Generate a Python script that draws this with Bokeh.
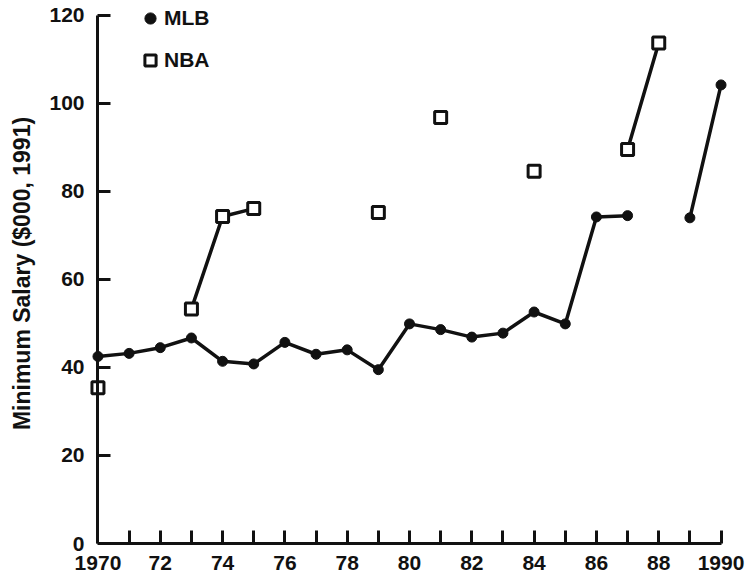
from bokeh.plotting import figure
from bokeh.models import Range1d, FixedTicker, Legend, LegendItem, LinearAxis
from bokeh.embed import file_html
from bokeh.resources import INLINE

# ---- data ----
mlb_years = [1970, 1971, 1972, 1973, 1974, 1975, 1976, 1977, 1978, 1979,
             1980, 1981, 1982, 1983, 1984, 1985, 1986, 1987, 1989, 1990]
mlb_vals = [42.5, 43.2, 44.5, 46.7, 41.4, 40.8, 45.7, 43.0, 44.0, 39.5,
            49.9, 48.6, 46.9, 47.8, 52.6, 49.9, 74.2, 74.5, 74.0, 104.2]

nba_years = [1970, 1973, 1974, 1975, 1979, 1981, 1984, 1987, 1988]
nba_vals = [35.4, 53.3, 74.3, 76.1, 75.2, 96.8, 84.6, 89.5, 113.7]

x_label_years = [1970, 1972, 1974, 1976, 1978, 1980, 1982, 1984, 1986, 1988, 1990]
x_tick_labels = ["1970", "72", "74", "76", "78", "80", "82", "84", "86", "88", "1990"]
x_minor_years = [1971, 1973, 1975, 1977, 1979, 1981, 1983, 1985, 1987, 1989]
y_ticks = [0, 20, 40, 60, 80, 100, 120]
y_label = "Minimum Salary ($000, 1991)"
series_names = ["MLB", "NBA"]


def broken(xs, ys):
    """Insert NaN where consecutive years are not adjacent, so lines break."""
    ox, oy = [], []
    for i, (x, y) in enumerate(zip(xs, ys)):
        if i > 0 and x - xs[i - 1] > 1:
            ox.append(float("nan"))
            oy.append(float("nan"))
        ox.append(x)
        oy.append(y)
    return ox, oy


FONT = "Liberation Sans"
INK = "#111111"

p = figure(width=749, height=576, output_backend="svg", toolbar_location=None,
           x_range=Range1d(1969.6, 1990.4), y_range=Range1d(0, 122.7),
           min_border_left=85, min_border_right=16, min_border_top=3,
           min_border_bottom=33)
p.outline_line_color = None
p.grid.visible = False
p.background_fill_color = "white"
p.border_fill_color = "white"

# lines
mx, my = broken(mlb_years, mlb_vals)
nx, ny = broken(nba_years, nba_vals)
p.line(mx, my, line_color=INK, line_width=3.5)
p.line(nx, ny, line_color=INK, line_width=3.5)

# markers
r_mlb = p.scatter(mlb_years, mlb_vals, marker="circle", size=10,
                  fill_color=INK, line_color=INK)
r_nba = p.scatter(nba_years, nba_vals, marker="square", size=12,
                  fill_color="white", line_color=INK, line_width=3)

# x axis
xa = p.xaxis[0]
xa.ticker = FixedTicker(ticks=x_label_years, minor_ticks=x_minor_years)
xa.major_label_overrides = dict(zip(x_label_years, x_tick_labels))
xa.bounds = (1970, 1990)
for pre in ("major", "minor"):
    setattr(xa, pre + "_tick_in", 13)
    setattr(xa, pre + "_tick_out", 0)
    setattr(xa, pre + "_tick_line_width", 3)
    setattr(xa, pre + "_tick_line_color", INK)
xa.axis_line_width = 3
xa.axis_line_color = INK
xa.major_label_standoff = 12
xa.major_label_text_font = FONT
xa.major_label_text_font_style = "bold"
xa.major_label_text_font_size = "21px"
xa.major_label_text_color = INK

# y axis: labels at the frame edge
ya = p.yaxis[0]
ya.ticker = FixedTicker(ticks=y_ticks)
ya.minor_tick_line_color = None
ya.major_tick_line_color = None
ya.axis_line_color = None
ya.major_tick_in = 0
ya.major_tick_out = 0
ya.major_label_standoff = 1
ya.major_label_text_font = FONT
ya.major_label_text_font_style = "bold"
ya.major_label_text_font_size = "21px"
ya.major_label_text_color = INK
ya.axis_label = y_label
ya.axis_label_text_font = FONT
ya.axis_label_text_font_style = "bold"
ya.axis_label_text_font_size = "23px"
ya.axis_label_text_color = INK
ya.axis_label_standoff = 11

# y axis line + inward ticks placed at 1970
yb = LinearAxis(ticker=FixedTicker(ticks=[], minor_ticks=y_ticks),
                fixed_location=1970, bounds=(0, 120))
yb.minor_tick_in = 13
yb.minor_tick_out = 0
yb.minor_tick_line_width = 3
yb.minor_tick_line_color = INK
yb.major_tick_line_color = None
yb.axis_line_width = 3
yb.axis_line_color = INK
yb.major_label_standoff = 0
p.add_layout(yb, "left")

legend = Legend(items=[LegendItem(label=series_names[0], renderers=[r_mlb]),
                       LegendItem(label=series_names[1], renderers=[r_nba])],
                location=(51, 469), orientation="vertical",
                glyph_width=28, glyph_height=28, label_height=28,
                spacing=14, padding=0, margin=0, label_standoff=0,
                border_line_alpha=0, background_fill_alpha=0,
                label_text_font=FONT, label_text_font_style="bold",
                label_text_font_size="21px", label_text_color=INK)
p.add_layout(legend, "center")

open("out.html", "w").write(file_html(p, INLINE))
